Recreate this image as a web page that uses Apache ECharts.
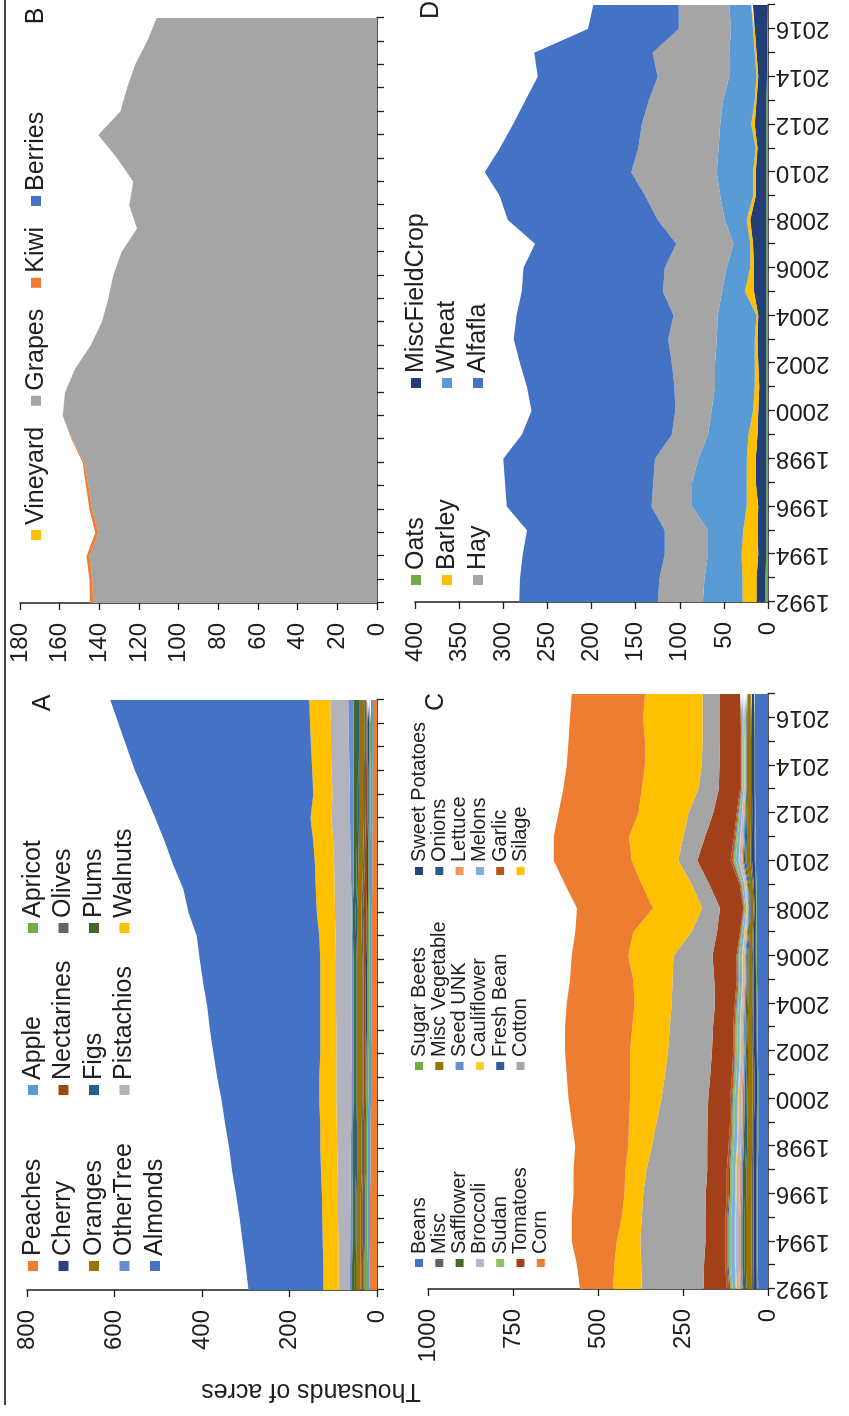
<!DOCTYPE html>
<html><head><meta charset="utf-8">
<script src="https://cdn.jsdelivr.net/npm/echarts@6/dist/echarts.min.js"></script>
<style>
html,body{margin:0;padding:0;background:#fff;overflow:hidden;width:849px;height:1416px;}
#chart{position:absolute;left:0;top:0;width:1416px;height:849px;transform-origin:0 0;transform:translate(0px,1416px) rotate(-90deg);}
</style></head>
<body><div id="chart"></div>
<script>
// ---------- categories ----------
const years = ['1992','1993','1994','1995','1996','1997','1998','1999','2000','2001','2002','2003','2004','2005','2006','2007','2008','2009','2010','2011','2012','2013','2014','2015','2016','2017'];

// ---------- Panel A : tree crops (thousands of acres) ----------
const peaches    = [17,17,16,16,16,15,15,15,14,14,14,13,13,13,12,12,12,11,11,11,10,10,10,9,9,9];
const apple      = [6,6,6,6,6,6,6,6,6,5,5,5,5,5,5,5,5,5,5,5,5,5,5,5,5,5];
const apricot    = [6,6,6,6,6,5,5,5,5,5,5,5,5,5,5,4,4,4,4,4,4,4,4,4,4,4];
const cherry     = [2,2,2,2,2,2,2,2,2,2,2,3,3,3,3,3,3,3,3,3,3,3,3,3,3,3];
const nectarines = [4,4,4,4,4,4,4,4,4,5,5,5,5,5,6,7,8,7,5,4,4,3,3,3,3,3];
const olives     = [3,3,3,3,3,3,3,3,3,3,3,3,3,3,3,4,4,4,4,4,4,5,5,5,5,5];
const oranges    = [10,10,10,10,10,10,10,10,10,10,10,10,10,10,10,10,10,10,11,11,11,11,12,12,12,12];
const figs       = [3,3,3,3,3,3,3,3,3,3,3,3,3,3,3,3,3,3,4,4,4,4,4,5,5,5];
const plums      = [6,6,6,6,6,7,7,7,7,7,7,7,7,7,7,7,7,7,7,7,8,8,8,8,8,8];
const otherTree  = [5,5,5,5,4,5,5,4,5,5,4,4,4,4,4,3,2,5,6,8,9,9,9,10,11,12];
const pistachios = [26,26,27,28,29,30,31,33,34,34,35,35,36,36,36,37,38,38,38,39,42,40,41,41,41,41];
const walnuts    = [35,35,36,36,37,38,39,38,39,39,37,37,36,36,36,37,42,43,44,46,48,44,44,46,47,48];
const almonds    = [171,177,183,189,196,203,208,217,223,233,244,252,258,267,275,280,293,303,324,339,355,384,405,421,438,455];

// ---------- Panel B : vines ----------
const vineyard = [0,0,0,0,0,0,0,0,0,0,0,0,0,0,0,0,0,0,0,0,0,0,0,0,0,0];
const grapes   = [143.2,143.5,145,140.6,143.7,145.5,147.6,153.6,158.5,157.3,152.3,144.4,138.8,135.5,133,128.8,121,124.9,122.9,131,140.6,129.5,126,122,116,111];
const kiwi     = [1.5,1.5,1.5,1.4,1.3,1.2,0.8,0.4,0,0,0,0,0,0,0,0,0,0,0,0,0,0,0,0,0,0];
const berries  = [0,0,0,0,0,0,0,0,0,0,0,0,0,0,0,0,0,0,0,0,0,0,0,0,0,0];

// ---------- Panel C : row crops ----------
const beans         = [29,30,30,30,30,30,29,29,29,29,30,31,31,32,33,34,33,34,36,37,37,38,38,38,39,39];
const sugarBeets    = [4,4,4,4,4,4,4,4,3,3,3,3,3,3,3,2,2,2,3,3,2,2,2,2,2,2];
const sweetPotatoes = [8,8,8,8,8,8,8,8,8,8,8,8,8,7,7,6,5,6,8,7,7,7,7,7,7,7];
const misc          = [6,6,6,6,6,6,5,5,5,5,5,5,4,4,4,3,3,3,5,4,4,3,3,3,3,3];
const miscVegetable = [16,17,17,17,16,16,15,15,15,14,13,13,12,11,11,9,8,9,12,11,10,9,9,9,9,9];
const onions        = [4,4,4,4,4,4,4,4,4,4,3,3,3,3,3,2,2,2,3,3,3,2,2,2,2,2];
const safflower     = [6,7,7,7,6,6,6,5,5,5,4,4,4,3,3,3,2,3,4,3,3,2,2,2,2,2];
const seedUnk       = [5,5,5,5,5,5,5,5,5,4,4,4,4,3,3,3,2,3,4,3,3,2,2,2,2,2];
const lettuce       = [4,4,4,4,4,4,4,4,4,4,3,3,3,3,3,2,2,2,3,3,2,2,2,2,2,2];
const broccoli      = [10,10,10,10,10,10,9,8,8,7,7,7,6,5,5,4,3,4,7,6,5,3,3,3,3,3];
const cauliflower   = [3,3,3,3,3,3,3,3,3,3,3,2,2,2,2,2,1,2,2,2,1,1,1,1,1,1];
const melons        = [9,10,10,10,9,9,9,8,8,7,7,7,6,6,6,5,4,5,8,7,6,4,4,4,4,4];
const sudan         = [7,8,8,8,7,7,7,7,7,6,6,6,6,5,5,4,3,4,7,5,4,3,3,3,3,3];
const freshBean     = [3,3,3,3,3,3,2,2,2,2,2,2,2,2,2,1,1,1,2,2,2,1,1,1,1,1];
const garlic        = [7,7,7,7,6,6,6,5,6,5,4,4,4,3,3,2,2,3,6,4,3,3,3,3,2,2];
const tomatoes      = [69,62,58,58,62,58,63,66,64,64,63,60,58,66,70,68,68,90,98,85,69,63,61,59,59,59];
const cotton        = [181,185,192,187,184,178,163,150,137,133,129,127,127,123,115,75,53,51,56,64,73,60,52,52,52,52];
const silage        = [84,79,69,59,55,63,69,81,93,103,112,110,110,115,133,171,144,147,137,160,147,166,167,169,174,169];
const corn          = [98,110,132,147,150,152,156,168,181,186,191,198,199,186,166,171,224,226,229,221,235,231,230,225,215,215];

// ---------- Panel D : field crops ----------
const oats          = [3,3,2,2,2,2,2,2,2,2,2,2,2,2,2,2,2,2,2,2,2,2,1,1,1,1];
const miscFieldCrop = [10,10,9,10,9,12,12,10,9,8,9,10,9,14,14,15,18,12,12,10,13,11,10,12,14,16];
const barley        = [16,16,19,16,13,10,10,10,6,5,4,3,2,10,4,3,4,3,3,2,4,2,2,2,2,2];
const wheat         = [45,43,38,40,62,62,55,46,47,45,45,43,44,26,27,19,25,37,41,42,35,36,31,29,25,25];
const hay           = [51,51,49,49,46,44,49,41,41,46,49,55,50,67,70,65,76,85,97,91,89,84,81,87,59,57];
const alfalfa       = [157,158,161,156,164,168,172,170,163,167,172,175,178,160,160,160,170,165,166,157,146,140,136,134,103,97];

// ---------- axis settings ----------
const valueMax      = [800, 180, 1000, 400];
const valueInterval = [200, 20, 250, 50];
const panelLetters  = ['A','B','C','D'];

// ---------- build ----------
const FONT = 'Liberation Sans, Arial, Helvetica, sans-serif';
const INK = '#1e1e1e';

const panels = [
  { stack:'A', items:[
    ['Peaches',peaches,'#ED7D31'],['Apple',apple,'#5B9BD5'],['Apricot',apricot,'#70AD47'],
    ['Cherry',cherry,'#264478'],['Nectarines',nectarines,'#9E480E'],['Olives',olives,'#636363'],
    ['Oranges',oranges,'#997300'],['Figs',figs,'#255E91'],['Plums',plums,'#43682B'],
    ['OtherTree',otherTree,'#698ED0'],['Pistachios',pistachios,'#B3B3BE'],['Walnuts',walnuts,'#FFC000'],
    ['Almonds',almonds,'#4472C4']]},
  { stack:'B', items:[
    ['Vineyard',vineyard,'#FFC000'],['Grapes',grapes,'#A5A5A5'],['Kiwi',kiwi,'#ED7D31'],['Berries',berries,'#4472C4']]},
  { stack:'C', items:[
    ['Beans',beans,'#4472C4'],['Sugar Beets',sugarBeets,'#70AD47'],['Sweet Potatoes',sweetPotatoes,'#264478'],
    ['Misc',misc,'#636363'],['Misc Vegetable',miscVegetable,'#997300'],['Onions',onions,'#255E91'],
    ['Safflower',safflower,'#43682B'],['Seed UNK',seedUnk,'#698ED0'],['Lettuce',lettuce,'#F1975A'],
    ['Broccoli',broccoli,'#B7B7CB'],['Cauliflower',cauliflower,'#FFCD33'],['Melons',melons,'#7CAFDD'],
    ['Sudan',sudan,'#8CC168'],['Fresh Bean',freshBean,'#335AA1'],['Garlic',garlic,'#B8561C'],
    ['Tomatoes',tomatoes,'#A2401A'],['Cotton',cotton,'#A5A5A5'],['Silage',silage,'#FFC000'],
    ['Corn',corn,'#ED7D31']]},
  { stack:'D', items:[
    ['Oats',oats,'#70AD47'],['MiscFieldCrop',miscFieldCrop,'#223F75'],['Barley',barley,'#FFC000'],
    ['Wheat',wheat,'#5B9BD5'],['Hay',hay,'#A5A5A5'],['Alfafla',alfalfa,'#4472C4']]}
];

const grids = [
  {left:126, top:27,  width:590, height:350},
  {left:813, top:20,  width:585, height:357},
  {left:127, top:428, width:595, height:340},
  {left:814, top:415, width:597, height:353}
];

const xAxes = grids.map((g,i)=>({
  type:'category', gridIndex:i, data:years, boundaryGap:false,
  axisLine:{show:true, onZero:false, lineStyle:{color:INK, width:1.5}},
  axisTick:{show:true, interval:0, length:7, lineStyle:{color:INK, width:1.3}},
  axisLabel: i>=2 ? {show:true, interval:1, rotate:90, fontSize:24, color:INK, margin:8, fontFamily:FONT} : {show:false},
  splitLine:{show:false}
}));
const yAxes = grids.map((g,i)=>({
  type:'value', gridIndex:i, min:0, max:valueMax[i], interval:valueInterval[i],
  axisLine:{show:true, lineStyle:{color:INK, width:1.5}},
  axisTick:{show:true, length:7, lineStyle:{color:INK, width:1.3}},
  axisLabel:{fontSize:24, color:INK, margin:20, fontFamily:FONT, formatter:(v)=>String(v)},
  splitLine:{show:false}
}));

const series = [];
panels.forEach((p,i)=>{
  p.items.forEach(([name,data,color])=>{
    series.push({
      name, type:'line', stack:p.stack, xAxisIndex:i, yAxisIndex:i, data,
      symbol:'none', showSymbol:false, smooth:false,
      lineStyle:{width:0, color}, itemStyle:{color},
      areaStyle:{color, opacity:1}, emphasis:{disabled:true}, silent:true
    });
  });
});

function colLegend(names, left, top, font, lh, gap, mark){
  return {
    orient:'vertical', left, top, padding:0, itemGap:gap, itemWidth:mark, itemHeight:mark,
    icon:'rect', selectedMode:false, data:names,
    textStyle:{fontSize:font, lineHeight:lh, color:INK, fontFamily:FONT}
  };
}
const legends = [
  colLegend(['Peaches','Cherry','Oranges','OtherTree','Almonds'], 145, 20, 25, 26, 4.5, 10),
  colLegend(['Apple','Nectarines','Figs','Pistachios'], 321, 20, 25, 26, 4.5, 10),
  colLegend(['Apricot','Olives','Plums','Walnuts'], 483, 20, 25, 26, 4.5, 10),
  {orient:'horizontal', left:876, top:23, padding:0, itemGap:21, itemWidth:10, itemHeight:10, icon:'rect',
   selectedMode:false, data:['Vineyard','Grapes','Kiwi','Berries'],
   textStyle:{fontSize:25, lineHeight:26, color:INK, fontFamily:FONT}},
  colLegend(['Beans','Misc','Safflower','Broccoli','Sudan','Tomatoes','Corn'], 149, 409, 20, 18, 0.3, 8),
  colLegend(['Sugar Beets','Misc Vegetable','Seed UNK','Cauliflower','Fresh Bean','Cotton'], 346, 409, 20, 18, 0.3, 8),
  colLegend(['Sweet Potatoes','Onions','Lettuce','Melons','Garlic','Silage'], 541, 409, 20, 18, 0.3, 8),
  colLegend(['Oats','Barley','Hay'], 831, 403, 25, 26, 5, 10),
  colLegend(['MiscFieldCrop','Wheat','Alfafla'], 1028, 403, 25, 26, 5, 10)
];

const letterPos = [[713,43],[1400,36],[714,436],[1406,431]];
const graphics = [
  {type:'line', shape:{x1:11, y1:5, x2:1416, y2:5}, style:{stroke:'#444', lineWidth:2}},
  {type:'text', x:25, y:311, rotation:Math.PI/2,
   style:{text:'Thousands of acres', fontSize:25, fill:INK, fontFamily:FONT, align:'center', verticalAlign:'middle', textAlign:'center', textVerticalAlign:'middle'}}
];
panelLetters.forEach((L,i)=>{
  graphics.push({type:'text', x:letterPos[i][0], y:letterPos[i][1],
    style:{text:L, fontSize:25, fill:INK, fontFamily:FONT, align:'center', verticalAlign:'middle', textAlign:'center', textVerticalAlign:'middle'}});
});

const chart = echarts.init(document.getElementById('chart'), null, {renderer:'canvas', width:1416, height:849});
chart.setOption({
  animation:false,
  backgroundColor:'#ffffff',
  textStyle:{fontFamily:FONT},
  grid:grids, xAxis:xAxes, yAxis:yAxes,
  legend:legends, series, graphic:graphics
});
</script>
</body></html>
